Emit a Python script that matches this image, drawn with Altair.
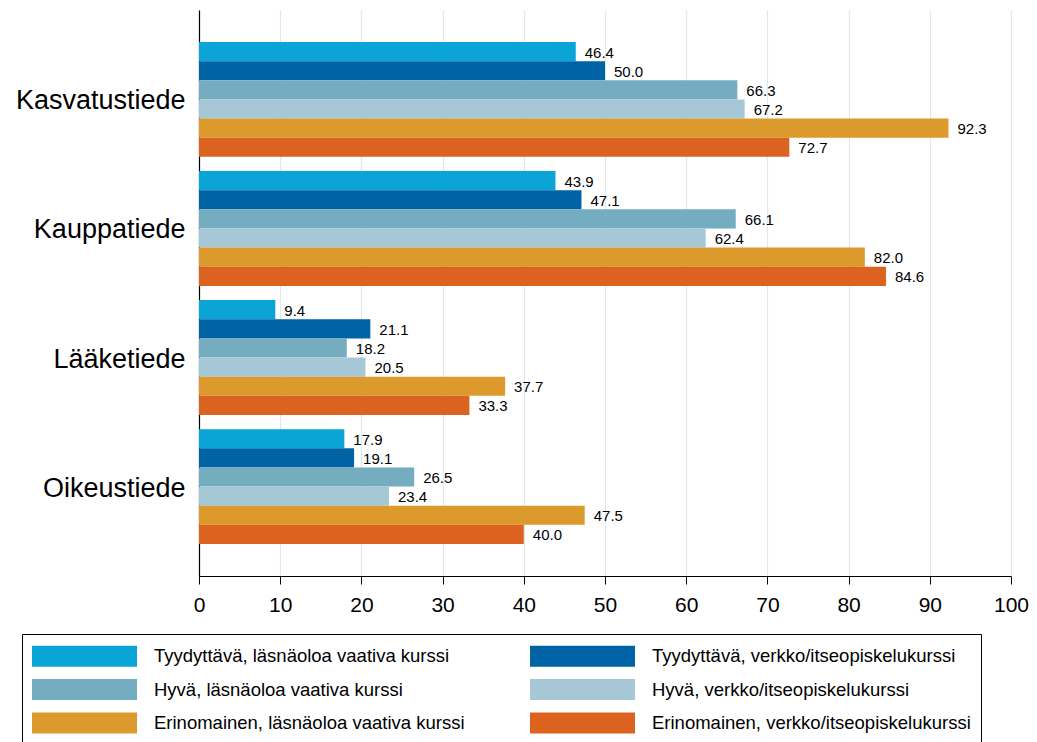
import altair as alt
import pandas as pd

groups = ["Kasvatustiede", "Kauppatiede", "Lääketiede", "Oikeustiede"]
series = [
    "Tyydyttävä, läsnäoloa vaativa kurssi",
    "Tyydyttävä, verkko/itseopiskelukurssi",
    "Hyvä, läsnäoloa vaativa kurssi",
    "Hyvä, verkko/itseopiskelukurssi",
    "Erinomainen, läsnäoloa vaativa kurssi",
    "Erinomainen, verkko/itseopiskelukurssi",
]
colors = ["#0aa5d6", "#0063a5", "#74adc0", "#a6c8d6", "#dc9a2c", "#db621f"]

kasvatustiede = [46.4, 50.0, 66.3, 67.2, 92.3, 72.7]
kauppatiede = [43.9, 47.1, 66.1, 62.4, 82.0, 84.6]
laaketiede = [9.4, 21.1, 18.2, 20.5, 37.7, 33.3]
oikeustiede = [17.9, 19.1, 26.5, 23.4, 47.5, 40.0]

x_ticks = [0, 10, 20, 30, 40, 50, 60, 70, 80, 90, 100]

rows = []
for g, vals in zip(groups, [kasvatustiede, kauppatiede, laaketiede, oikeustiede]):
    for s, v in zip(series, vals):
        rows.append({"group": g, "series": s, "value": v})
df = pd.DataFrame(rows)

FONT = "Liberation Sans"

y_enc = alt.Y(
    "group:N",
    sort=groups,
    title=None,
    scale=alt.Scale(paddingInner=0.11, paddingOuter=0.248),
    axis=alt.Axis(
        labelFontSize=27,
        labelFont=FONT,
        labelColor="black",
        labelPadding=14,
        labelOffset=2,
        ticks=False,
        domainColor="black",
        domainWidth=1.2,
        grid=False,
    ),
)
yoff = alt.YOffset("series:N", sort=series, scale=alt.Scale(paddingInner=0, paddingOuter=0))
x_enc = alt.X(
    "value:Q",
    title=None,
    scale=alt.Scale(domain=[0, 100], nice=False),
    axis=alt.Axis(
        values=x_ticks,
        labelFontSize=21,
        labelFont=FONT,
        labelColor="black",
        labelPadding=10,
        labelFlush=False,
        tickColor="black",
        tickSize=8,
        domainColor="black",
        domainWidth=1.2,
        grid=True,
        gridColor="#dde9ee",
        gridWidth=1.2,
    ),
)

bars = alt.Chart(df).mark_bar(opacity=1).encode(
    x=x_enc,
    y=y_enc,
    yOffset=yoff,
    color=alt.Color(
        "series:N",
        sort=series,
        scale=alt.Scale(domain=series, range=colors),
        legend=alt.Legend(
            title=None,
            orient="none",
            direction="horizontal",
            legendX=-177,
            legendY=624,
            columns=2,
            columnPadding=65,
            rowPadding=10.5,
            padding=10,
            strokeColor="black",
            fillColor="white",
            labelFont=FONT,
            labelFontSize=18.5,
            labelColor="black",
            labelLimit=600,
            symbolType="M-4.375,-0.875H4.375V0.875H-4.375Z",
            symbolSize=576,
            symbolStrokeWidth=0,
            symbolOpacity=1,
            symbolOffset=40.5,
            labelOffset=57.5,
        ),
    ),
)

labels = alt.Chart(df).mark_text(
    align="left", baseline="middle", dx=9, dy=1, fontSize=15, font=FONT, color="black"
).encode(
    x=alt.X("value:Q"),
    y=alt.Y("group:N", sort=groups),
    yOffset=yoff,
    text=alt.Text("value:Q", format=".1f"),
)

chart = (
    alt.layer(bars, labels)
    .properties(
        width=812,
        height=566,
        padding={"left": 191, "top": 2, "right": 18, "bottom": 170},
        autosize="none",
        background="white",
    )
    .configure_view(stroke=None)
)

chart.save("out.html", embed_options={"renderer": "svg", "actions": False})
